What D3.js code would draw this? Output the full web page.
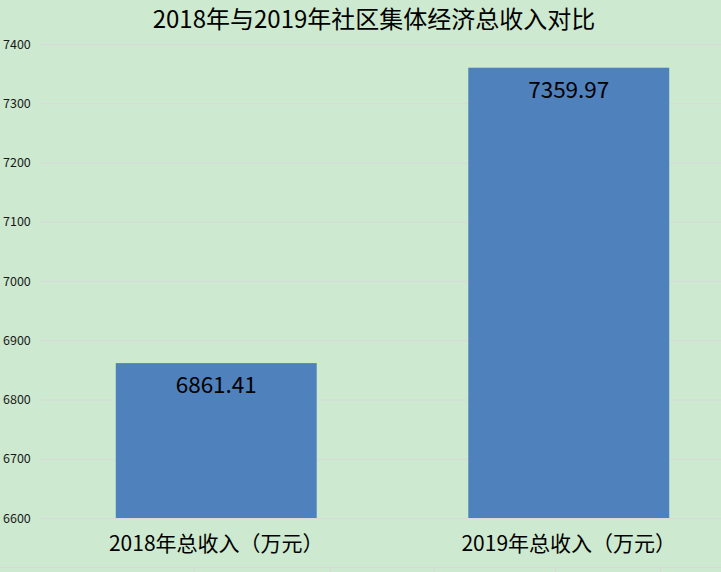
<!DOCTYPE html>
<html><head><meta charset="utf-8">
<script src="https://cdn.jsdelivr.net/npm/d3@7"></script>
<style>
html,body{margin:0;padding:0;background:#cde9cf;}
svg{display:block;}
</style></head>
<body>
<script>
const categories = ["2018年总收入（万元）", "2019年总收入（万元）"];
const values = [6861.41, 7359.97];
const valueLabels = ["6861.41", "7359.97"];
const yTicks = [6600, 6700, 6800, 6900, 7000, 7100, 7200, 7300, 7400];
const title = "2018年与2019年社区集体经济总收入对比";

const W = 721, H = 572;
const font = "'Noto Sans CJK SC','Noto Sans',sans-serif";
const svg = d3.select("body").append("svg").attr("width", W).attr("height", H);
svg.append("rect").attr("width", W).attr("height", H).attr("fill", "#cde9cf");

const y = d3.scaleLinear().domain([6600, 7400]).range([518, 44]);
const x = d3.scaleBand().domain(categories).range([40, 745]).paddingInner(0.43).paddingOuter(0.215);

// spreadsheet grid remnants at bottom
svg.append("line").attr("x1", 0).attr("x2", W).attr("y1", 567.5).attr("y2", 567.5)
  .attr("stroke", "#d8d8d8").attr("stroke-width", 1);
[194, 330, 434, 555, 660].forEach(v => {
  svg.append("line").attr("x1", v + 0.5).attr("x2", v + 0.5).attr("y1", 568).attr("y2", H)
    .attr("stroke", "#d8d8d8");
});

// gridlines
const yAxis = d3.axisLeft(y).tickValues(yTicks).tickSize(-(W - 40)).tickPadding(6).tickFormat(d3.format("d"));
const gy = svg.append("g").attr("transform", "translate(40,0)").call(yAxis);
gy.select(".domain").remove();
gy.selectAll(".tick line").attr("stroke", "#d9d9d9").attr("stroke-width", 1.2);
gy.selectAll(".tick text").attr("x", -37).attr("text-anchor", "start")
  .attr("font-family", font).attr("font-size", 12.5).attr("fill", "#1a1a1a");

// bars
svg.selectAll("rect.bar").data(values).enter().append("rect").attr("class", "bar")
  .attr("x", (d, i) => x(categories[i]))
  .attr("width", x.bandwidth())
  .attr("y", d => y(d))
  .attr("height", d => y(6600) - y(d))
  .attr("fill", "#4f81bd");

// value labels
svg.selectAll("text.val").data(values).enter().append("text").attr("class", "val")
  .attr("x", (d, i) => x(categories[i]) + x.bandwidth() / 2)
  .attr("y", d => y(d) + 30)
  .attr("text-anchor", "middle")
  .attr("font-family", font).attr("font-size", 22.5).attr("fill", "#000")
  .text((d, i) => valueLabels[i]);

// x axis labels
const xAxis = d3.axisBottom(x).tickSize(0).tickPadding(0);
const gx = svg.append("g").attr("transform", "translate(0,518)").call(xAxis);
gx.select(".domain").remove();
gx.selectAll(".tick text").attr("dy", 0).attr("y", 33)
  .attr("font-family", font).attr("font-size", 21).attr("fill", "#000");

// title
svg.append("text").attr("x", 374).attr("y", 28).attr("text-anchor", "middle")
  .attr("font-family", font).attr("font-size", 24).attr("fill", "#000").text(title);
</script>
</body></html>
